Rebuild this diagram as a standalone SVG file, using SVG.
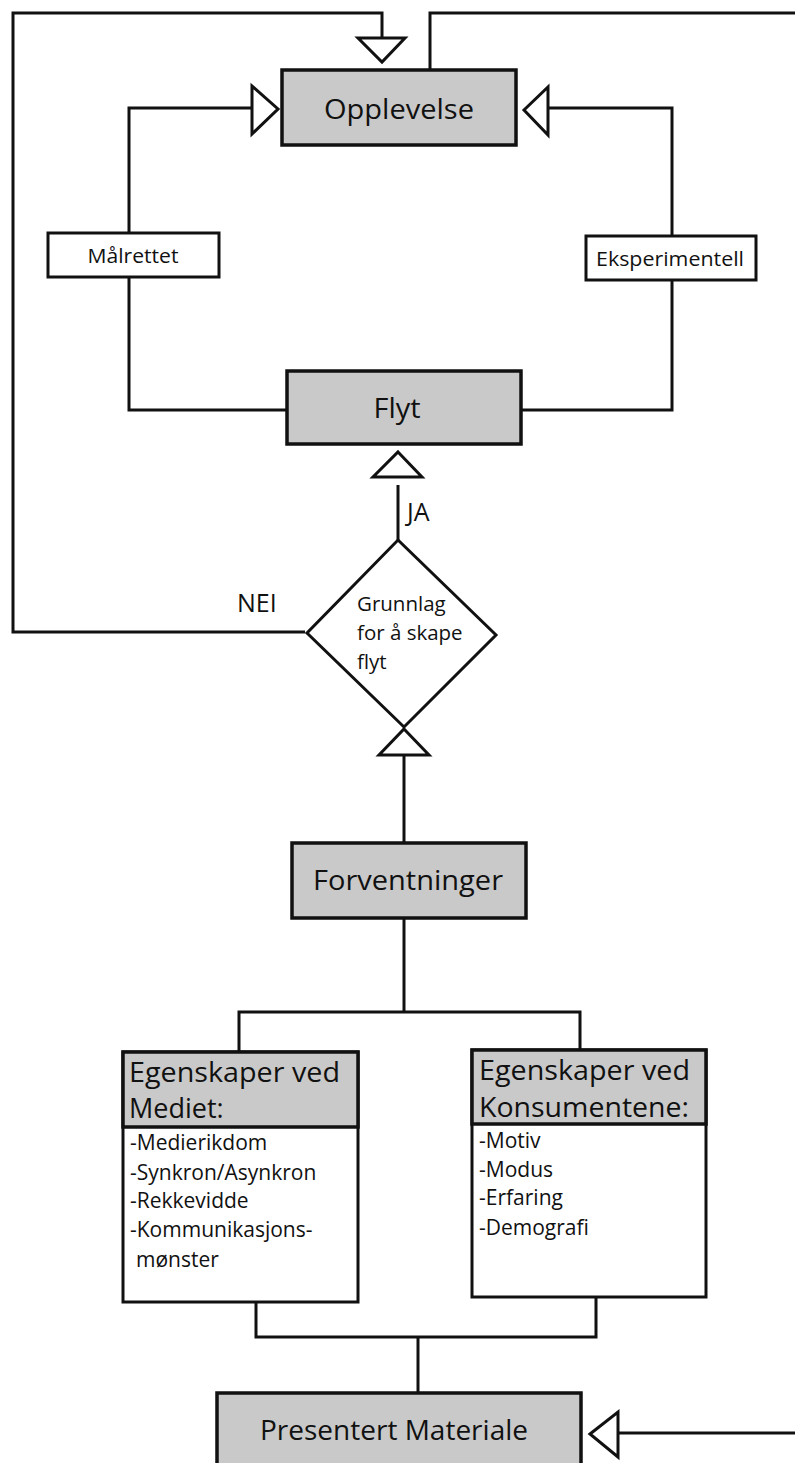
<svg xmlns="http://www.w3.org/2000/svg" width="795" height="1463" viewBox="0 0 795 1463">
<style>
.ln{fill:none;stroke:#111;stroke-width:3;stroke-linejoin:miter}
.box{fill:#c9c9c9;stroke:#111;stroke-width:3.5}
.wbox{fill:#fff;stroke:#111;stroke-width:3}
.arr{fill:#fff;stroke:#111;stroke-width:3}
text{font-family:"Open Sans","Noto Sans","DejaVu Sans",sans-serif;fill:#111;font-weight:500}
.t1{font-size:27px}
.t2{font-size:20.5px}
.t3{font-size:20.5px}
.t4{font-size:25px}
.t5{font-size:21px}
.c{text-anchor:middle}
</style>
<rect width="795" height="1463" fill="#fff"/>
<g id="connectors">
<polyline class="ln" points="382,38 382,13 13,13 13,632 305,632"/>
<polyline class="ln" points="430,70 430,13 795,13"/>
<polyline class="ln" points="252,108 129,108 129,233"/>
<polyline class="ln" points="129,277 129,410 287,410"/>
<polyline class="ln" points="548,108 672,108 672,236"/>
<polyline class="ln" points="672,280 672,410 521,410"/>
<line class="ln" x1="398" y1="485" x2="398" y2="540"/>
<line class="ln" x1="404" y1="755" x2="404" y2="843"/>
<polyline class="ln" points="404,918 404,1012"/>
<polyline class="ln" points="239,1052 239,1012 580,1012 580,1050"/>
<polyline class="ln" points="256,1302 256,1337 596,1337 596,1297"/>
<line class="ln" x1="418" y1="1337" x2="418" y2="1393"/>
<line class="ln" x1="619" y1="1433" x2="795" y2="1433"/>
<polygon class="arr" points="358,38 405,38 382,62"/>
<polygon class="arr" points="252,86 252,134 278,109"/>
<polygon class="arr" points="548,87 548,135 524,110"/>
<polygon class="arr" points="398,452 422,477 373,477"/>
<polygon class="arr" points="404,729 429,755 379,755"/>
<polygon class="arr" points="590,1434 618,1412 618,1457"/>
<text class="t4" x="407" y="521">JA</text>
<text class="t4" x="237" y="612">NEI</text>
</g>
<g id="opplevelse">
<rect class="box" x="282" y="70" width="234" height="75"/>
<text class="t1 c" x="399" y="119" textLength="150" lengthAdjust="spacingAndGlyphs">Opplevelse</text>
</g>
<g id="malrettet">
<rect class="wbox" x="48" y="233" width="171" height="44"/>
<text class="t2 c" x="133" y="263" textLength="91" lengthAdjust="spacingAndGlyphs">Målrettet</text>
</g>
<g id="eksperimentell">
<rect class="wbox" x="586" y="236" width="170" height="44"/>
<text class="t2 c" x="670" y="266" textLength="148" lengthAdjust="spacingAndGlyphs">Eksperimentell</text>
</g>
<g id="flyt">
<rect class="box" x="287" y="371" width="234" height="73"/>
<text class="t1 c" x="397" y="418" textLength="47" lengthAdjust="spacingAndGlyphs">Flyt</text>
</g>
<g id="grunnlag">
<polygon class="wbox" points="398,540 496,635 404,727 307,633"/>
<text class="t3" x="357" y="611">Grunnlag</text>
<text class="t3" x="357" y="640">for å skape</text>
<text class="t3" x="357" y="669">flyt</text>
</g>
<g id="forventninger">
<rect class="box" x="292" y="843" width="234" height="75"/>
<text class="t1 c" x="408" y="890" textLength="190" lengthAdjust="spacingAndGlyphs">Forventninger</text>
</g>
<g id="mediet">
<rect class="wbox" x="123" y="1052" width="235" height="250"/>
<rect class="box" x="123" y="1052" width="235" height="75"/>
<text class="t1" x="129" y="1082" textLength="211" lengthAdjust="spacingAndGlyphs">Egenskaper ved</text>
<text class="t1" x="129" y="1118">Mediet:</text>
<text class="t5" x="130" y="1150">-Medierikdom</text>
<text class="t5" x="130" y="1180">-Synkron/Asynkron</text>
<text class="t5" x="130" y="1208">-Rekkevidde</text>
<text class="t5" x="130" y="1237">-Kommunikasjons-</text>
<text class="t5" x="136" y="1267">mønster</text>
</g>
<g id="konsumentene">
<rect class="wbox" x="472" y="1050" width="234" height="247"/>
<rect class="box" x="472" y="1050" width="234" height="74"/>
<text class="t1" x="479" y="1080" textLength="211" lengthAdjust="spacingAndGlyphs">Egenskaper ved</text>
<text class="t1" x="479" y="1117" textLength="210" lengthAdjust="spacingAndGlyphs">Konsumentene:</text>
<text class="t5" x="479" y="1148">-Motiv</text>
<text class="t5" x="479" y="1177">-Modus</text>
<text class="t5" x="479" y="1205">-Erfaring</text>
<text class="t5" x="479" y="1235">-Demografi</text>
</g>
<g id="presentert">
<rect class="box" x="217" y="1393" width="364" height="80"/>
<text class="t1 c" x="394" y="1440" textLength="268" lengthAdjust="spacingAndGlyphs">Presentert Materiale</text>
</g>
</svg>
